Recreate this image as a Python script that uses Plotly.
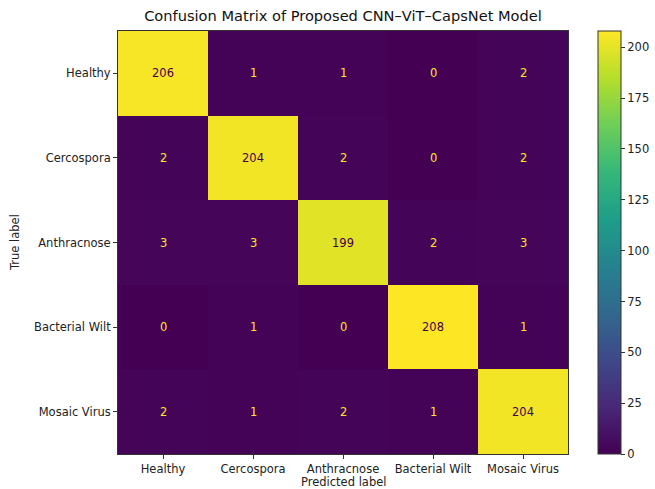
import plotly.graph_objects as go

classes = ["Healthy", "Cercospora", "Anthracnose", "Bacterial Wilt", "Mosaic Virus"]
matrix = [
    [206, 1, 1, 0, 2],
    [2, 204, 2, 0, 2],
    [3, 3, 199, 2, 3],
    [0, 1, 0, 208, 1],
    [2, 1, 2, 1, 204],
]
cbar_ticks = [0, 25, 50, 75, 100, 125, 150, 175, 200]

zmax = max(max(r) for r in matrix)
font = "DejaVu Sans"
fs = 11.5

fig = go.Figure()
fig.add_trace(go.Heatmap(
    z=matrix, x=classes, y=classes,
    colorscale="Viridis", zmin=0, zmax=zmax,
    xgap=0, ygap=0,
    colorbar=dict(
        x=1.0667, xanchor="left", y=0.5, yanchor="middle", len=1.0, lenmode="fraction",
        thickness=23, thicknessmode="pixels", xpad=0, ypad=0,
        outlinewidth=1, outlinecolor="#333333",
        tickvals=cbar_ticks, ticks="outside", ticklen=4, tickcolor="#333333",
        tickfont=dict(family=font, size=fs, color="#222222"),
    ),
    hoverinfo="skip",
))

thresh = zmax / 2
for i, row in enumerate(matrix):
    for j, v in enumerate(row):
        fig.add_annotation(
            x=classes[j], y=classes[i], text=str(v), showarrow=False,
            xref="x", yref="y",
            font=dict(family=font, size=fs, color="#440154" if v > thresh else "#fde725"),
        )

fig.add_annotation(text="Predicted label", xref="paper", yref="paper", x=0.5, y=-28 / 423,
                   xanchor="center", yanchor="middle", showarrow=False, borderpad=0,
                   font=dict(family=font, size=fs, color="#222222"))
fig.add_annotation(text="True label", xref="paper", yref="paper", x=-103.5 / 450, y=0.5,
                   xanchor="center", yanchor="middle", showarrow=False, textangle=-90,
                   font=dict(family=font, size=fs, color="#222222"))

fig.update_layout(
    width=655, height=489,
    margin=dict(l=118, r=87, t=31, b=35, autoexpand=False),
    paper_bgcolor="white", plot_bgcolor="white",
    title=dict(text="Confusion Matrix of Proposed CNN–ViT–CapsNet Model",
               x=(118 + 568) / 2 / 655, xanchor="center", y=1 - 16 / 489, yanchor="middle",
               font=dict(family=font, size=14.6, color="#111111")),
    xaxis=dict(
        tickfont=dict(family=font, size=fs, color="#222222"),
        ticks="outside", ticklen=4, tickcolor="#333333", automargin=False,
        showline=True, linecolor="#333333", linewidth=1, mirror=True,
        showgrid=False, zeroline=False,
    ),
    yaxis=dict(
        tickfont=dict(family=font, size=fs, color="#222222"),
        ticks="outside", ticklen=4, tickcolor="#333333", automargin=False,
        showline=True, linecolor="#333333", linewidth=1, mirror=True,
        showgrid=False, zeroline=False, autorange="reversed",
    ),
)

fig.write_html("out.html", config={"displayModeBar": False},
               post_script="document.body.style.margin='0';document.body.style.padding='0';")
